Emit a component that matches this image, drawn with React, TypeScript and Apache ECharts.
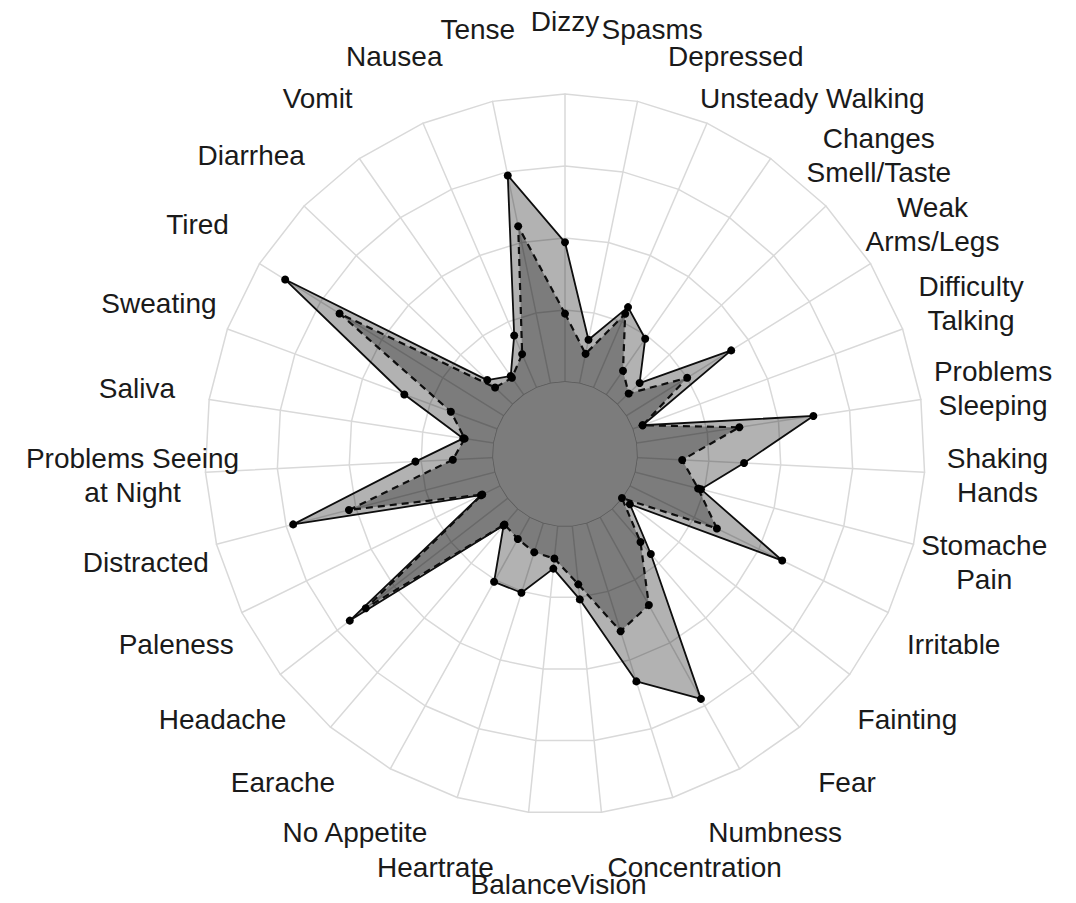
import React, { useEffect, useRef } from "react";
import * as echarts from "echarts";

// Symptoms, listed clockwise starting at the top
const categories = [
  "Dizzy",
  "Spasms",
  "Depressed",
  "Unsteady Walking",
  "Changes\nSmell/Taste",
  "Weak\nArms/Legs",
  "Difficulty\nTalking",
  "Problems\nSleeping",
  "Shaking\nHands",
  "Stomache\nPain",
  "Irritable",
  "Fainting",
  "Fear",
  "Numbness",
  "Concentration",
  "Vision",
  "Balance",
  "Heartrate",
  "No Appetite",
  "Earache",
  "Headache",
  "Paleness",
  "Distracted",
  "Problems Seeing\nat Night",
  "Saliva",
  "Sweating",
  "Tired",
  "Diarrhea",
  "Vomit",
  "Nausea",
  "Tense",
];

// Solid outline, light fill
const groupSolid = [
  2.94, 1.62, 2.22, 1.95, 1.43, 2.72, 1.15, 3.49, 2.49, 1.95, 3.36, 1.14, 1.83,
  3.89, 3.31, 2.03, 1.6, 2.02, 2.03, 1.31, 3.78, 1.3, 3.9, 2.08, 1.43, 2.38,
  4.58, 1.49, 1.32, 1.79, 3.95,
];

// Dashed outline
const groupDashed = [
  1.95, 1.42, 2.12, 1.41, 1.22, 2.0, 1.15, 2.45, 1.63, 1.91, 2.35, 1.0, 1.61,
  2.4, 2.58, 1.82, 1.46, 1.43, 1.35, 1.29, 3.5, 1.28, 3.1, 1.56, 1.41, 1.69,
  3.69, 1.34, 1.29, 1.51, 3.23,
];

const scaleMin = 0;
const scaleMax = 5;
const ringCount = 5;
// lowest level of the response scale (the filled inner disc)
const floorLevel = 1;

export default function App() {
  const ref = useRef<HTMLDivElement>(null);

  useEffect(() => {
    if (!ref.current) return;
    const chart = echarts.init(ref.current, undefined, { renderer: "svg" });
    const n = categories.length;
    // ECharts places indicators counter-clockwise; reorder so the result reads clockwise
    const order = categories.map((_, k) => (k === 0 ? 0 : n - k));
    const pick = (arr: number[]) => order.map((i) => arr[i]);
    const indicator = order.map((i) => ({
      name: categories[i],
      min: scaleMin,
      max: scaleMax,
    }));

    const gridColor = "#d9d9d9";

    chart.setOption({
      animation: false,
      backgroundColor: "#ffffff",
      radar: {
        center: [565, 454],
        radius: 360,
        startAngle: 90,
        splitNumber: ringCount,
        shape: "polygon",
        indicator,
        nameGap: 73,
        axisName: {
          color: "#1a1a1a",
          fontSize: 28,
          fontFamily: "'Liberation Sans', Arial, sans-serif",
          lineHeight: 34,
          align: "center",
          verticalAlign: "middle",
        },
        axisLine: { lineStyle: { color: gridColor, width: 1.5 } },
        axisTick: { show: false },
        axisLabel: { show: false },
        splitLine: { lineStyle: { color: gridColor, width: 1.5 } },
        splitArea: { show: false },
      },
      series: [
        {
          type: "radar",
          symbol: "circle",
          symbolSize: 8,
          data: [
            {
              name: "Floor",
              value: order.map(() => floorLevel),
              symbol: "none",
              lineStyle: { color: "#bdbdbd", width: 1.5, type: "solid" },
              areaStyle: { color: "#ffffff", opacity: 1 },
            },
            {
              name: "Solid",
              value: pick(groupSolid),
              itemStyle: { color: "#000000" },
              lineStyle: { color: "#111111", width: 1.8, type: "solid" },
              areaStyle: { color: "#000000", opacity: 0.3 },
            },
            {
              name: "Dashed",
              value: pick(groupDashed),
              itemStyle: { color: "#000000" },
              lineStyle: { color: "#111111", width: 2.2, type: [7, 5] },
              areaStyle: { color: "#000000", opacity: 0.3 },
            },
          ],
        },
      ],
    });

    return () => chart.dispose();
  }, []);

  return (
    <div
      ref={ref}
      style={{ position: "absolute", left: 0, top: 0, width: 1076, height: 903 }}
    />
  );
}
